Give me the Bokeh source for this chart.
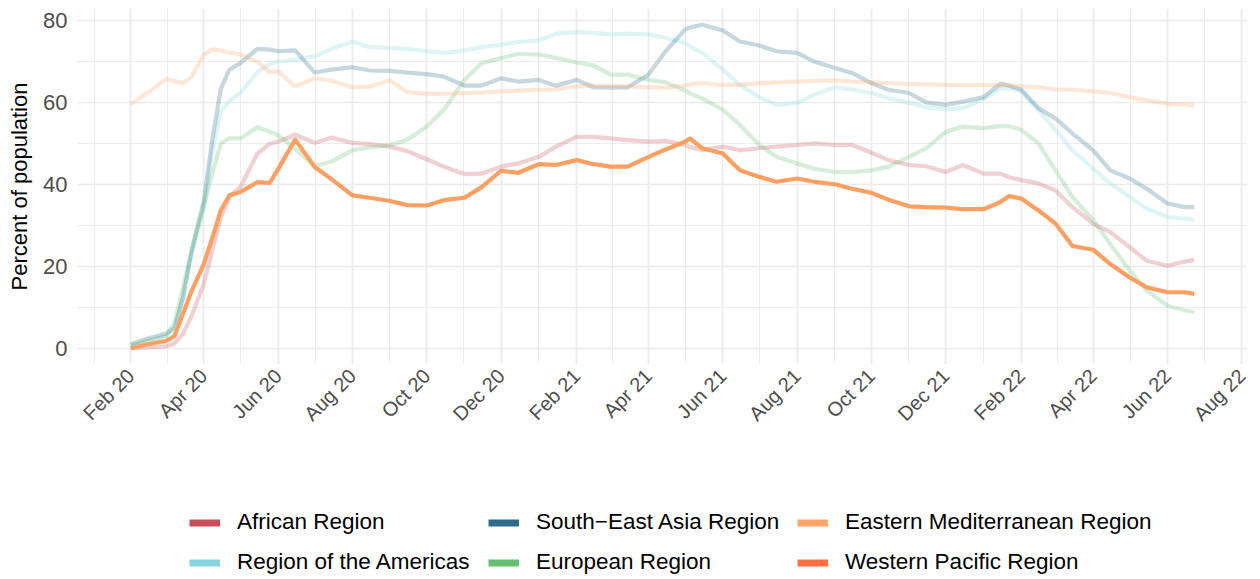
import math
import pandas as pd
from bokeh.plotting import figure
from bokeh.layouts import column
from bokeh.models import (ColumnDataSource, Range1d, FixedTicker,
                          DatetimeTickFormatter, Legend, LegendItem)
from bokeh.embed import file_html
from bokeh.resources import INLINE

# ---------------- data ----------------
dates = [
    "2020-02-01", "2020-02-15", "2020-03-01", "2020-03-08", "2020-03-15", "2020-03-22",
    "2020-04-01", "2020-04-08", "2020-04-15", "2020-04-22", "2020-05-01", "2020-05-15",
    "2020-05-25", "2020-06-01", "2020-06-15", "2020-07-01", "2020-07-15", "2020-08-01",
    "2020-08-15", "2020-09-01", "2020-09-15", "2020-10-01", "2020-10-15", "2020-11-01",
    "2020-11-15", "2020-12-01", "2020-12-15", "2021-01-01", "2021-01-15", "2021-02-01",
    "2021-02-15", "2021-03-01", "2021-03-15", "2021-04-01", "2021-04-15", "2021-05-01",
    "2021-05-05", "2021-05-15", "2021-06-01", "2021-06-15", "2021-07-01", "2021-07-15",
    "2021-08-01", "2021-08-15", "2021-09-01", "2021-09-15", "2021-10-01", "2021-10-15",
    "2021-11-01", "2021-11-15", "2021-12-01", "2021-12-15", "2022-01-01", "2022-01-15",
    "2022-01-22", "2022-02-01", "2022-02-15", "2022-03-01", "2022-03-15", "2022-04-01",
    "2022-04-15", "2022-05-01", "2022-05-15", "2022-06-01", "2022-06-15", "2022-06-23",
]

african = [
    0.0, 0.2, 0.5, 1.2, 3.6, 7.9,
    15.7, 23.9, 32.0, 37.0, 39.4, 47.6,
    50.0, 50.5, 52.2, 50.2, 51.5, 50.2,
    49.9, 49.3, 48.2, 46.2, 44.4, 42.6,
    42.7, 44.4, 45.2, 46.8, 49.3, 51.7,
    51.7, 51.3, 50.9, 50.5, 50.7, 49.7,
    49.2, 48.4, 49.3, 48.4, 48.9, 49.3,
    49.7, 50.1, 49.7, 49.7, 47.8, 46.0,
    44.8, 44.5, 43.1, 44.8, 42.7, 42.7,
    41.8, 41.1, 40.3, 38.6, 34.5, 30.4,
    28.4, 24.7, 21.4, 20.2, 21.2, 21.6,
]

americas = [
    0.7, 1.8, 3.0, 4.5, 13.0, 23.0,
    34.0, 48.0, 58.0, 60.5, 62.4, 67.5,
    69.5, 70.1, 70.5, 71.4, 73.2, 75.0,
    73.6, 73.4, 73.2, 72.6, 72.2, 72.8,
    73.6, 74.2, 74.9, 75.3, 76.9, 77.3,
    77.1, 76.7, 76.9, 76.7, 75.9, 74.6,
    73.8, 72.2, 68.1, 64.4, 61.4, 59.5,
    60.0, 62.0, 63.8, 63.3, 62.4, 61.1,
    60.0, 58.9, 58.4, 58.7, 60.9, 63.6,
    63.5, 62.8, 58.3, 53.4, 48.4, 43.9,
    40.3, 37.0, 34.1, 32.1, 31.7, 31.4,
]

south_east_asia = [
    1.0, 2.4, 3.6, 5.1, 12.4, 23.9,
    36.0, 51.0, 63.5, 68.1, 69.7, 73.2,
    73.0, 72.6, 72.8, 67.4, 68.1, 68.7,
    67.9, 67.8, 67.4, 67.0, 66.4, 64.2,
    64.2, 66.0, 65.2, 65.6, 64.2, 65.6,
    63.8, 63.7, 63.8, 66.9, 72.6, 77.9,
    78.4, 79.1, 77.7, 75.0, 74.0, 72.6,
    72.2, 70.1, 68.5, 67.3, 64.8, 63.2,
    62.4, 60.1, 59.5, 60.3, 61.4, 64.7,
    64.2, 63.2, 58.7, 56.2, 52.5, 48.4,
    43.5, 41.5, 39.0, 35.4, 34.5, 34.5,
]

european = [
    0.6, 1.8, 3.0, 6.3, 14.9, 23.9,
    35.0, 42.7, 50.1, 51.3, 51.3, 54.0,
    53.0, 52.1, 48.8, 44.5, 45.7, 48.4,
    49.1, 49.7, 51.0, 54.2, 58.3, 65.6,
    69.7, 70.9, 72.0, 71.8, 71.0, 69.9,
    69.1, 66.9, 66.9, 65.6, 65.0, 63.0,
    62.3, 61.1, 58.3, 54.6, 49.7, 46.8,
    45.2, 43.9, 43.1, 43.1, 43.5, 44.4,
    46.8, 48.9, 52.9, 54.2, 53.8, 54.3,
    54.3, 53.4, 50.1, 43.5, 37.0, 31.3,
    25.5, 19.0, 14.1, 10.4, 9.3, 8.8,
]

eastern_mediterranean = [
    59.7, 62.5, 65.8, 65.3, 64.8, 66.4,
    71.8, 73.0, 72.8, 72.3, 71.8, 70.0,
    67.5, 67.7, 64.0, 66.0, 65.4, 63.8,
    64.0, 65.5, 62.6, 62.2, 62.2, 62.4,
    62.5, 62.8, 63.0, 63.2, 63.3, 64.0,
    64.2, 64.2, 64.0, 63.8, 63.7, 64.2,
    64.5, 64.8, 64.4, 64.4, 64.8, 65.0,
    65.2, 65.4, 65.5, 65.2, 65.0, 64.8,
    64.6, 64.5, 64.4, 64.3, 64.3, 64.4,
    64.3, 64.0, 63.8, 63.3, 63.2, 62.8,
    62.4, 61.4, 60.6, 59.8, 59.6, 59.4,
]

western_pacific = [
    0.0, 1.0, 1.8, 3.0, 8.5, 14.0,
    20.6, 27.0, 33.7, 37.4, 38.2, 40.6,
    40.4, 43.8, 51.0, 44.3, 41.3, 37.4,
    36.8, 36.0, 35.0, 34.9, 36.2, 36.8,
    39.4, 43.4, 42.9, 45.0, 44.8, 46.0,
    45.0, 44.4, 44.4, 46.8, 48.6, 50.5,
    51.3, 48.9, 47.6, 43.5, 41.9, 40.7,
    41.5, 40.7, 40.1, 39.0, 38.0, 36.3,
    34.7, 34.5, 34.4, 34.0, 34.0, 35.8,
    37.2, 36.6, 33.7, 30.5, 25.0, 24.1,
    20.6, 17.3, 14.9, 13.7, 13.7, 13.3,
]

regions = ["African Region", "Region of the Americas", "South\u2212East Asia Region",
           "European Region", "Eastern Mediterranean Region", "Western Pacific Region"]
region_colors = ["#C9505A", "#86D5E0", "#2E6A8A", "#67BF73", "#FFA56A", "#FF7045"]
highlight_line_color = "#FFA062"

x_tick_dates = ["2020-02-01", "2020-04-01", "2020-06-01", "2020-08-01", "2020-10-01",
                "2020-12-01", "2021-02-01", "2021-04-01", "2021-06-01", "2021-08-01",
                "2021-10-01", "2021-12-01", "2022-02-01", "2022-04-01", "2022-06-01",
                "2022-08-01"]
y_ticks = [0, 20, 40, 60, 80]
y_minor_ticks = [10, 30, 50, 70]

# ---------------- main figure ----------------
dt = pd.to_datetime(dates)
series = [african, americas, south_east_asia, european, eastern_mediterranean, western_pacific]
src = ColumnDataSource(data=dict(date=dt, afr=african, amr=americas, sear=south_east_asia,
                                 eur=european, emr=eastern_mediterranean, wpr=western_pacific))
cols = ["afr", "amr", "sear", "eur", "emr", "wpr"]

pad = (dt[-1] - dt[0]) * 0.05
ymax = max(max(s) for s in series)
ymin = min(min(s) for s in series)
ypad = (ymax - ymin) * 0.05

FONT = "Liberation Sans"
LEFT, RIGHT = 77, 13
p = figure(width=1260, height=480, x_axis_type="datetime",
           x_range=Range1d(dt[0] - pad, dt[-1] + pad),
           y_range=Range1d(ymin - ypad, ymax + ypad),
           output_backend="svg", toolbar_location=None,
           min_border_left=LEFT, min_border_right=RIGHT, min_border_top=8, min_border_bottom=116)
p.outline_line_color = None
p.background_fill_color = "white"

ms = [int(pd.Timestamp(d).value // 10**6) for d in x_tick_dates]
minor_ms = [(a + b) // 2 for a, b in zip(ms[:-1], ms[1:])]
minor_ms = [ms[0] - (ms[1] - ms[0]) // 2] + minor_ms
p.xaxis.ticker = FixedTicker(ticks=ms, minor_ticks=minor_ms)
fmt = "%b %y"
p.xaxis.formatter = DatetimeTickFormatter(milliseconds=fmt, seconds=fmt, minsec=fmt, minutes=fmt,
                                          hourmin=fmt, hours=fmt, days=fmt, months=fmt, years=fmt)
p.yaxis.ticker = FixedTicker(ticks=y_ticks, minor_ticks=y_minor_ticks)

for ax in (p.xaxis, p.yaxis):
    ax.axis_line_color = None
    ax.major_tick_line_color = None
    ax.minor_tick_line_color = None
    ax.major_tick_out = 0
    ax.major_tick_in = 0
    ax.minor_tick_out = 0
    ax.major_label_text_color = "#4D4D4D"
    ax.major_label_text_font = FONT

p.xaxis.major_label_orientation = math.pi / 4
p.xaxis.major_label_text_font_size = "20px"
p.xaxis.major_label_standoff = 8
p.yaxis.major_label_text_font_size = "22px"
p.yaxis.major_label_standoff = 10
p.yaxis.axis_label = "Percent of population"
p.yaxis.axis_label_text_font = FONT
p.yaxis.axis_label_text_font_size = "22px"
p.yaxis.axis_label_text_font_style = "normal"
p.yaxis.axis_label_text_color = "black"
p.yaxis.axis_label_standoff = 8

for g in (p.xgrid, p.ygrid):
    g.grid_line_color = "#EBEBEB"
    g.grid_line_width = 1.7
    g.minor_grid_line_color = "#EBEBEB"
    g.minor_grid_line_width = 0.9

for col, color in zip(cols[:-1], region_colors[:-1]):
    p.line(x="date", y=col, source=src, line_color=color, line_alpha=0.27,
           line_width=4.2, line_join="round")
p.line(x="date", y="wpr", source=src, line_color=highlight_line_color, line_alpha=1.0,
       line_width=4.2, line_join="round")

# ---------------- legend strip ----------------
lg = figure(width=1260, height=99, x_range=Range1d(0, 1), y_range=Range1d(0, 1),
            output_backend="svg", toolbar_location=None,
            x_axis_location=None, y_axis_location=None,
            min_border_left=LEFT, min_border_right=RIGHT, min_border_top=0, min_border_bottom=0)
lg.outline_line_color = None
lg.xgrid.visible = False
lg.ygrid.visible = False

# key renderers: their single segment lies outside the visible range, only the legend shows them
offscreen = ColumnDataSource(data=dict(x=[5, 6], y=[5, 6]))
keys = [lg.line(x="x", y="y", source=offscreen, line_color=c, line_width=7) for c in region_colors]

legend_x = [189, 488, 797]          # page x of each legend column
for k, lx in enumerate(legend_x):
    i, j = 2 * k, 2 * k + 1
    leg = Legend(items=[LegendItem(label=regions[i], renderers=[keys[i]]),
                        LegendItem(label=regions[j], renderers=[keys[j]])],
                 location=(lx - LEFT, 4), orientation="vertical",
                 glyph_width=31, glyph_height=25, label_height=25, label_standoff=17,
                 spacing=14, padding=0, margin=0,
                 border_line_color=None, background_fill_alpha=0,
                 label_text_font=FONT, label_text_font_size="22.5px",
                 label_text_color="black")
    lg.add_layout(leg, "center")

layout = column(p, lg, spacing=0)
open("out.html", "w").write(file_html(layout, INLINE))
